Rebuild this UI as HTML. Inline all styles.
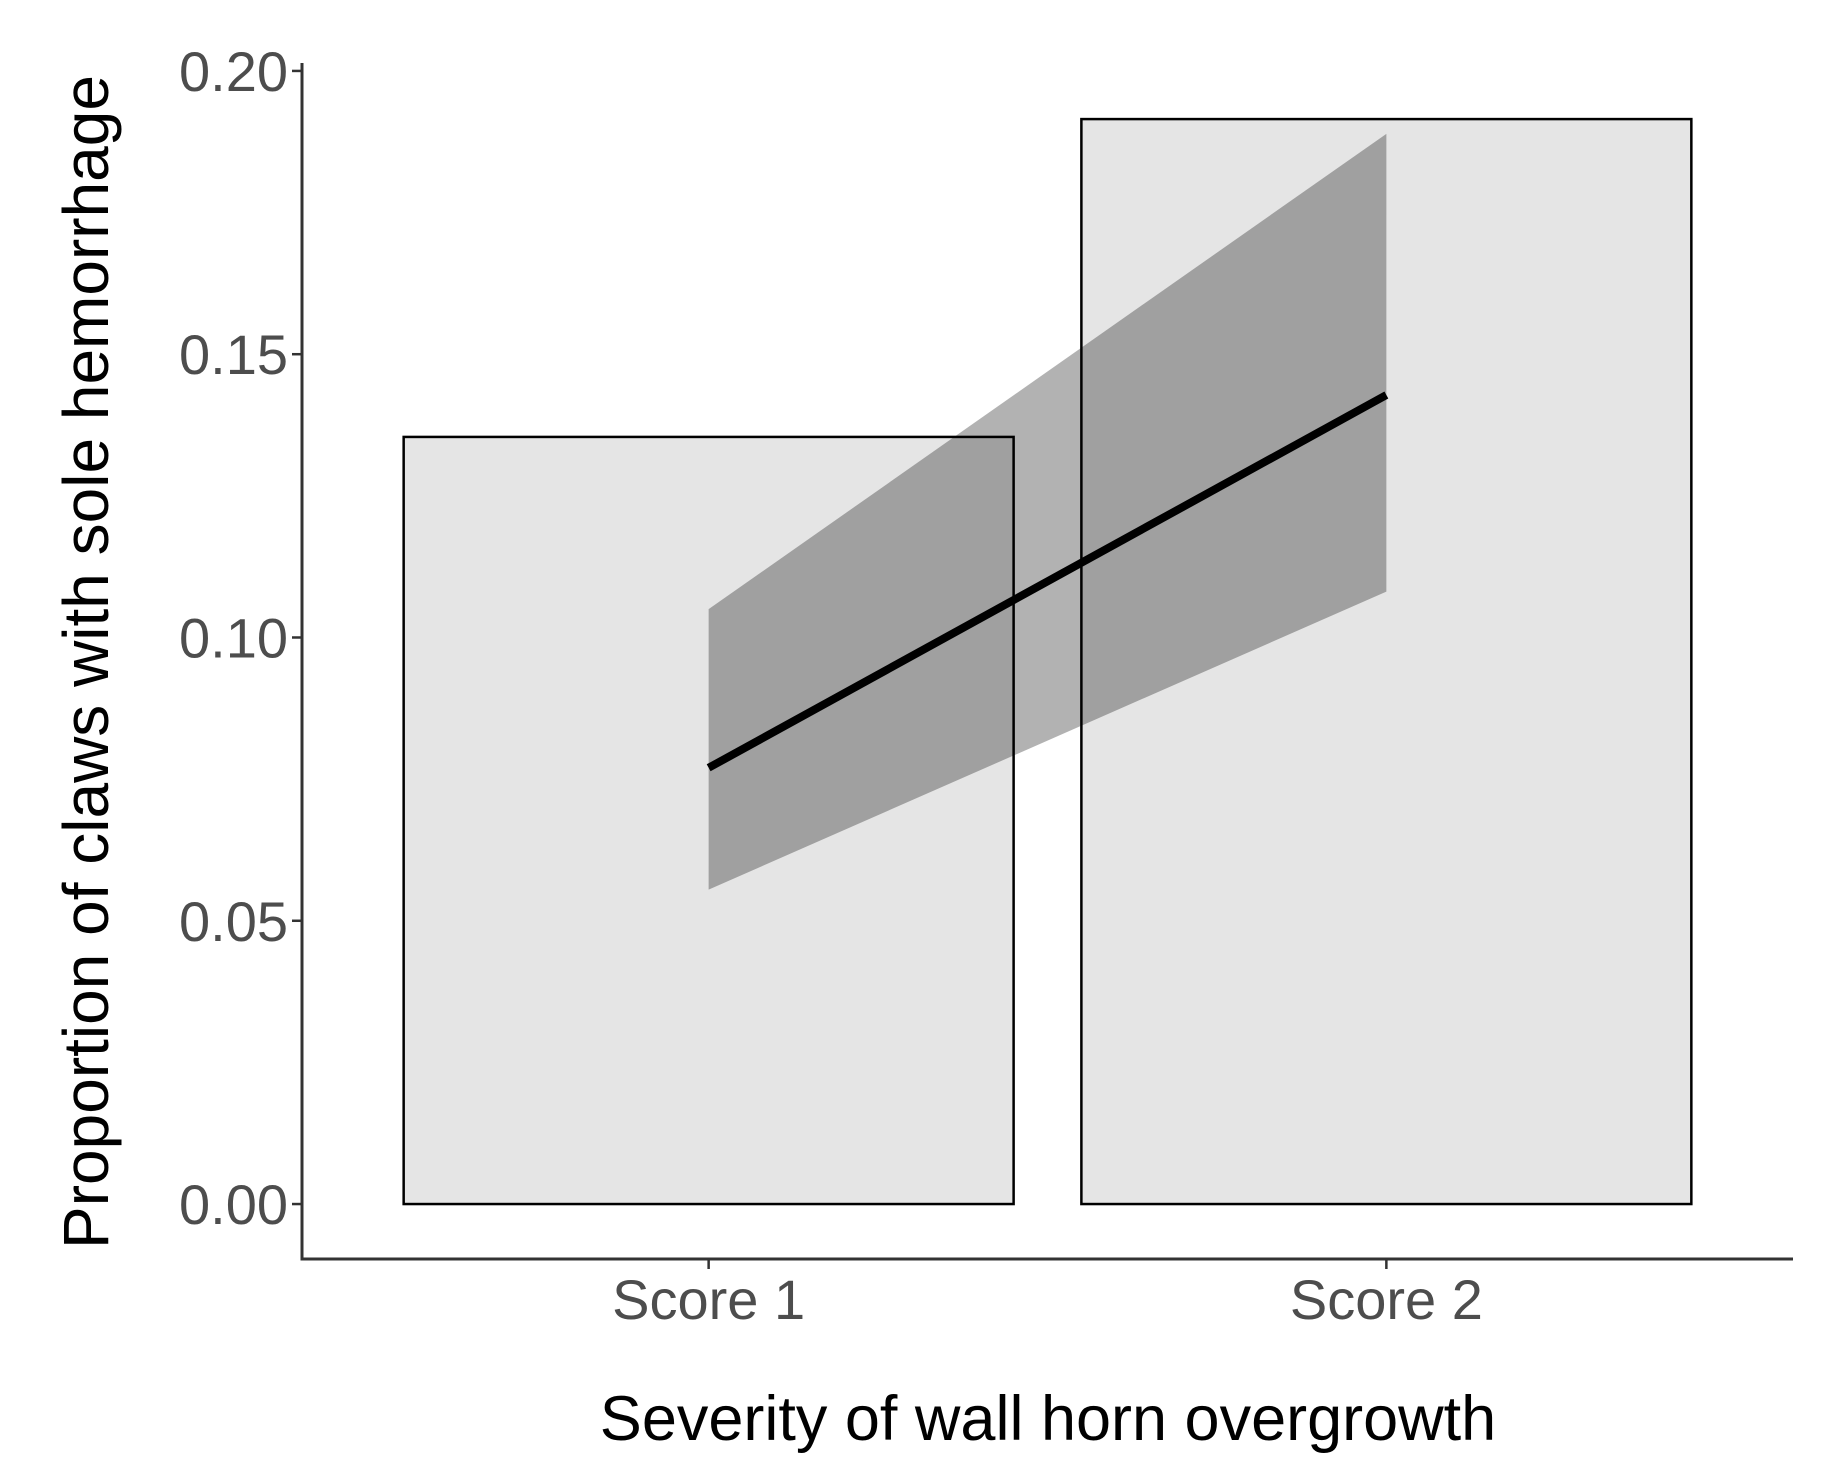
<!DOCTYPE html>
<html><head><meta charset="utf-8"><style>
html,body{margin:0;padding:0;background:#fff;}
svg{display:block;}
text{font-family:"Liberation Sans",Arial,sans-serif;}
</style></head><body>
<svg id="chart" width="1832" height="1472" viewBox="0 0 1832 1472">
<g id="bars"></g>
<g id="ribbon"></g>
<g id="line"></g>
<g id="axes"></g>
<text x="1048" y="1440" font-size="63" text-anchor="middle" fill="#000">Severity of wall horn overgrowth</text>
<text transform="translate(108,662) rotate(-90)" font-size="64" text-anchor="middle" fill="#000">Proportion of claws with sole hemorrhage</text>
</svg>
<script>
const categories = ["Score 1", "Score 2"];
const barValues = [0.1354, 0.1915];
const fitValues = [0.077, 0.1428];
const lowerValues = [0.0555, 0.1081];
const upperValues = [0.1050, 0.1889];
const yTicks = [0, 0.05, 0.10, 0.15, 0.20];
const yTickLabels = ["0.00", "0.05", "0.10", "0.15", "0.20"];

const NS = "http://www.w3.org/2000/svg";
const X0 = 302, X1 = 1793, Y0 = 1259, Y1 = 63;
const xDom = [0.4, 2.6], yDom = [-0.0097, 0.2014];
function xs(v){ return X0 + (v - xDom[0]) / (xDom[1] - xDom[0]) * (X1 - X0); }
function ys(v){ return Y0 - (v - yDom[0]) / (yDom[1] - yDom[0]) * (Y0 - Y1); }
function mk(tag, attrs, parent){
  const e = document.createElementNS(NS, tag);
  for (const k in attrs) e.setAttribute(k, attrs[k]);
  parent.appendChild(e);
  return e;
}
const gb = document.getElementById("bars");
categories.forEach((c, i) => {
  const cx = xs(i + 1), hw = xs(i + 1.45) - cx;
  const r = mk("rect", {x: cx - hw, y: ys(barValues[i]), width: 2 * hw, height: ys(0) - ys(barValues[i]), fill: "#e5e5e5", stroke: "#000", "stroke-width": 2.5}, gb);
  
  
});
const gr = document.getElementById("ribbon");
let pts = [];
categories.forEach((c, i) => pts.push(xs(i + 1) + "," + ys(upperValues[i])));
for (let i = categories.length - 1; i >= 0; i--) pts.push(xs(i + 1) + "," + ys(lowerValues[i]));
const poly = mk("polygon", {points: pts.join(" "), fill: "#000", "fill-opacity": 0.3}, gr);


const gl = document.getElementById("line");
const lp = categories.map((c, i) => xs(i + 1) + "," + ys(fitValues[i])).join(" ");
const pl = mk("polyline", {points: lp, fill: "none", stroke: "#000", "stroke-width": 8}, gl);


const ga = document.getElementById("axes");
const ya = mk("line", {x1: X0, y1: Y1, x2: X0, y2: Y0 + 1.5, stroke: "#333", "stroke-width": 3}, ga);


const xa = mk("line", {x1: X0 - 1.5, y1: Y0, x2: X1, y2: Y0, stroke: "#333", "stroke-width": 3}, ga);


yTicks.forEach((t, i) => {
  const y = ys(t);
  const tk = mk("line", {x1: X0 - 10, y1: y, x2: X0, y2: y, stroke: "#333", "stroke-width": 2.5}, ga);
  
  
  const tx = mk("text", {x: X0 - 14, y: y + 20, "font-size": 56, "text-anchor": "end", fill: "#4d4d4d"}, ga);
  tx.textContent = yTickLabels[i];
  
  
});
categories.forEach((c, i) => {
  const x = xs(i + 1);
  const tk = mk("line", {x1: x, y1: Y0, x2: x, y2: Y0 + 10, stroke: "#333", "stroke-width": 2.5}, ga);
  
  
  const tx = mk("text", {x: x, y: 1319, "font-size": 56, "text-anchor": "middle", fill: "#4d4d4d"}, ga);
  tx.textContent = c;
  
  
});
</script>
</body></html>
